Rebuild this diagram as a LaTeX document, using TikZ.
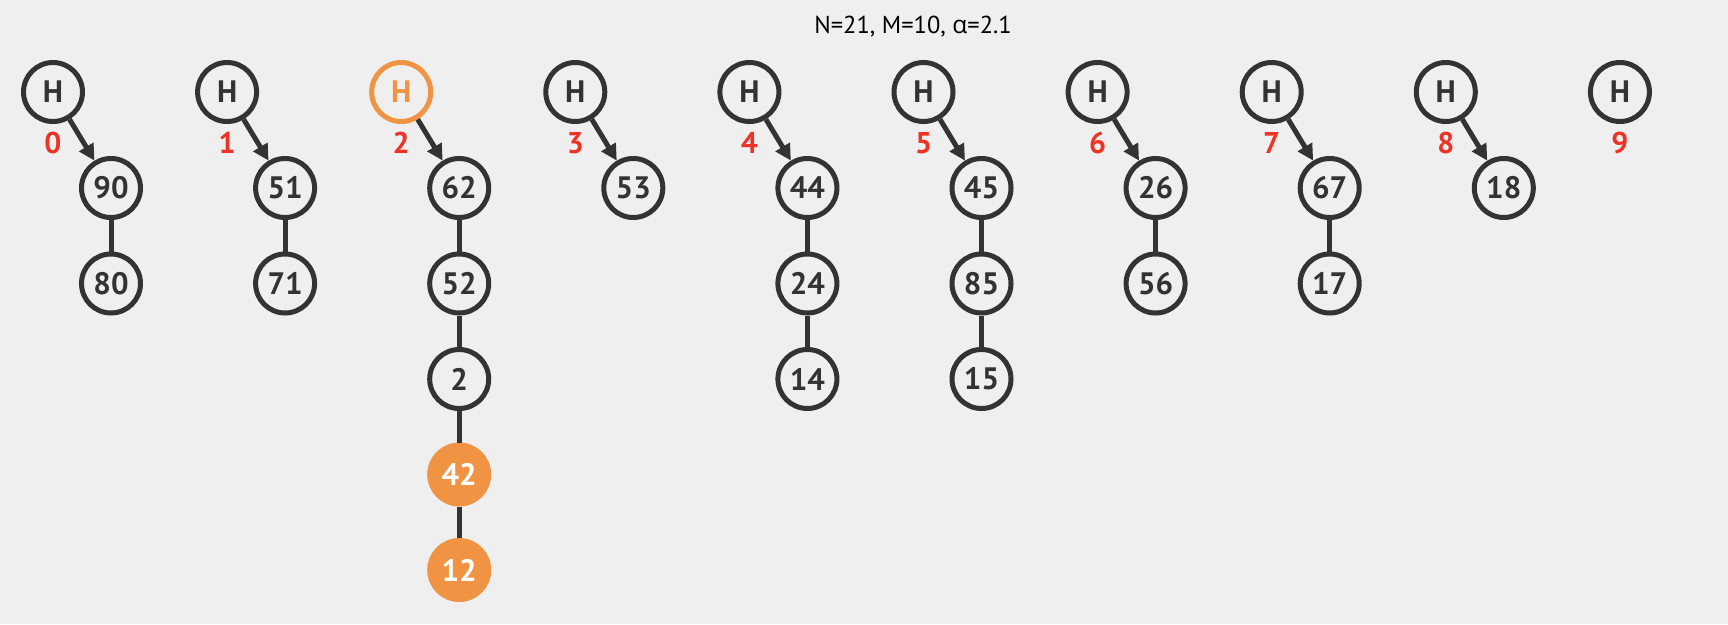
\documentclass[tikz,border=0pt]{standalone}
\usepackage{fontspec}
\setmainfont{PT Sans}
\newfontfamily\greekfont{Open Sans}
\usetikzlibrary{arrows.meta}
\definecolor{ink}{HTML}{333333}
\definecolor{hot}{HTML}{F09444}
\definecolor{idxred}{HTML}{EE3224}
\definecolor{paper}{HTML}{EFEFEF}
\tikzset{head/.style    = {circle, draw=ink, line width=5pt, minimum size=59pt, inner sep=0pt,
                           text=ink, font=\fontsize{31}{31}\selectfont\bfseries},
         hothead/.style = {head, draw=hot, text=hot},
         key/.style     = {head},
         hotkey/.style  = {head, draw=hot, fill=hot, text=white},
         idx/.style     = {text=idxred, font=\fontsize{30}{30}\selectfont\bfseries},
         link/.style    = {ink, line width=5pt, -{Triangle[length=16pt,width=16pt]}},
         chain/.style   = {ink, line width=5pt}}
\begin{document}
\begin{tikzpicture}%
            [x=1pt, y=-1pt]
            \fill[paper] (0,0) rectangle (1728,624);
            \useasboundingbox (0,0) rectangle (1728,624);
            \node[text=black, font=\fontsize{24.5}{24.5}\selectfont] (title) at (913,27) {N=21, M=10, {\greekfont α}=2.1};

            % buckets
            \foreach \i/\s in {0/head,1/head,2/hothead,3/head,4/head,5/head,6/head,7/head,8/head,9/head} {
                \node[\s] (h\i) at (53+174.1*\i,92) {H};
                \node[idx] (n\i) at (53+174.1*\i,143) {\i};
            }

            % bucket 0
            \node[key] (k0a) at (111,188) {90};
            \node[key] (k0b) at (111,283.5) {80};
            % bucket 1
            \node[key] (k1a) at (285.1,188) {51};
            \node[key] (k1b) at (285.1,283.5) {71};
            % bucket 2
            \node[key] (k2a) at (459.2,188) {62};
            \node[key] (k2b) at (459.2,283.5) {52};
            \node[key] (k2c) at (459.2,379) {2};
            \node[hotkey] (k2d) at (459.2,474.5) {42};
            \node[hotkey] (k2e) at (459.2,570) {12};
            % bucket 3
            \node[key] (k3a) at (633.3,188) {53};
            % bucket 4
            \node[key] (k4a) at (807.4,188) {44};
            \node[key] (k4b) at (807.4,283.5) {24};
            \node[key] (k4c) at (807.4,379) {14};
            % bucket 5
            \node[key] (k5a) at (981.5,188) {45};
            \node[key] (k5b) at (981.5,283.5) {85};
            \node[key] (k5c) at (981.5,379) {15};
            % bucket 6
            \node[key] (k6a) at (1155.6,188) {26};
            \node[key] (k6b) at (1155.6,283.5) {56};
            % bucket 7
            \node[key] (k7a) at (1329.7,188) {67};
            \node[key] (k7b) at (1329.7,283.5) {17};
            % bucket 8
            \node[key] (k8a) at (1503.8,188) {18};

            \draw[chain] (k0a) -- (k0b);
            \draw[chain] (k1a) -- (k1b);
            \draw[chain] (k2a) -- (k2b);
            \draw[chain] (k2b) -- (k2c);
            \draw[chain] (k2c) -- (k2d);
            \draw[chain] (k2d) -- (k2e);
            \draw[chain] (k4a) -- (k4b);
            \draw[chain] (k4b) -- (k4c);
            \draw[chain] (k5a) -- (k5b);
            \draw[chain] (k5b) -- (k5c);
            \draw[chain] (k6a) -- (k6b);
            \draw[chain] (k7a) -- (k7b);

            \foreach \i in {0,...,8} {
                \draw[link] (h\i) -- (k\i a);
            }
        \end{tikzpicture}
\end{document}
